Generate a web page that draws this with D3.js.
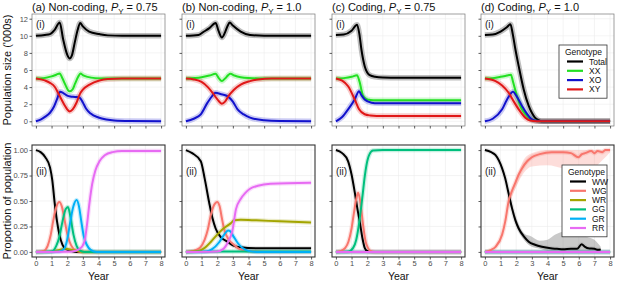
<!DOCTYPE html>
<html>
<head>
<meta charset="utf-8">
<script src="https://d3js.org/d3.v7.min.js"></script>
<style>
  body { margin: 0; background: #fff; }
  text { font-family: "Liberation Sans", Arial, sans-serif; }
</style>
</head>
<body>
<svg id="chart" width="617" height="281"></svg>
<script>
// ---- data: [year, value] ----
const years = [0, 1, 2, 3, 4, 5, 6, 7, 8];
const sizeTicks = [0, 2, 4, 6, 8, 10, 12];
const propTicks = [0, 0.25, 0.5, 0.75, 1];

const sexKeys = ["Total", "XX", "XO", "XY"];
const genoKeys = ["WW", "WG", "WR", "GG", "GR", "RR"];
const zero = [[0, 0], [8, 0]];

// (a) non-coding, Py = 0.75
const aTotal = [[0,10],[0.57,10.1],[0.9,10.2],[1.2,10.7],[1.52,11.55],[1.74,9.6],[2.0,7.8],[2.16,7.35],[2.3,7.7],[2.48,9.2],[2.67,10.7],[2.83,11.5],[3.0,11.1],[3.4,10.5],[4.06,10.2],[4.6,10.05],[5.5,10],[8,10]];
const aXX = [[0,5],[0.5,5.05],[1.0,5.25],[1.3,5.45],[1.52,5.6],[1.7,5.0],[1.9,4.2],[2.05,3.65],[2.16,3.5],[2.35,3.75],[2.5,4.4],[2.7,5.2],[2.85,5.6],[3.0,5.4],[3.3,5.2],[3.8,5.05],[4.5,5],[8,5]];
const aXO = [[0,0],[0.3,0.2],[0.6,0.55],[0.9,1.0],[1.15,1.7],[1.35,2.6],[1.55,3.45],[1.75,3.3],[2.0,3.0],[2.2,2.9],[2.5,2.85],[2.8,2.75],[3.0,2.2],[3.2,1.5],[3.5,0.9],[4.0,0.45],[4.5,0.22],[5,0.1],[6,0.03],[8,0]];
const aXY = [[0,5],[0.57,4.78],[0.9,4.5],[1.2,4.04],[1.52,2.95],[1.84,1.86],[2.0,1.4],[2.16,1.15],[2.35,1.4],[2.6,2.2],[2.8,3.15],[3.0,3.7],[3.43,4.3],[4.06,4.78],[4.6,4.95],[5.5,5],[8,5]];
const aWW = [[0,1],[0.3,0.98],[0.6,0.93],[0.9,0.83],[1.05,0.7],[1.2,0.48],[1.35,0.3],[1.5,0.17],[1.7,0.07],[1.9,0.03],[2.2,0.01],[2.6,0],[8,0]];
const aWG = [[0,0],[0.5,0.01],[0.75,0.06],[0.95,0.17],[1.1,0.3],[1.3,0.44],[1.5,0.49],[1.65,0.45],[1.85,0.3],[2.0,0.18],[2.15,0.1],[2.4,0.03],[2.7,0.005],[3,0],[8,0]];
const aWR = [[0,0],[1.0,0.005],[1.5,0.02],[1.9,0.03],[2.3,0.02],[2.8,0.005],[3.3,0],[8,0]];
const aGG = [[0,0],[1.0,0.005],[1.3,0.06],[1.5,0.15],[1.7,0.3],[1.9,0.42],[2.05,0.44],[2.2,0.35],[2.4,0.17],[2.6,0.06],[2.8,0.015],[3.1,0],[8,0]];
const aGR = [[0,0],[1.5,0.005],[1.8,0.03],[2.0,0.12],[2.2,0.3],[2.4,0.45],[2.6,0.51],[2.75,0.45],[2.9,0.3],[3.05,0.16],[3.25,0.07],[3.5,0.02],[3.9,0],[8,0]];
const aRR = [[0,0],[2.3,0.005],[2.8,0.03],[3.1,0.1],[3.25,0.25],[3.43,0.49],[3.6,0.67],[3.8,0.8],[4.06,0.89],[4.4,0.95],[4.9,0.98],[5.5,0.99],[8,0.99]];

// (b) non-coding, Py = 1.0
const bTotal = [[0,10],[0.8,10.1],[1.16,10.5],[1.5,10.9],[1.9,11.5],[2.08,10.6],[2.3,9.8],[2.5,10.4],[2.65,11.1],[2.8,11.55],[3.0,11.2],[3.5,10.5],[4.1,10.1],[5,10],[8,10]];
const bXX = [[0,5],[1.0,5.15],[1.5,5.35],[1.9,5.55],[2.1,5.05],[2.3,4.7],[2.5,5.0],[2.7,5.4],[2.85,5.55],[3.1,5.35],[3.5,5.15],[4.0,5.05],[5,5],[8,5]];
const bXO = [[0,0],[0.5,0.3],[0.95,0.82],[1.38,2.18],[1.7,3.0],[1.9,3.34],[2.2,3.2],[2.65,2.95],[3.0,2.3],[3.3,1.4],[3.7,0.8],[4.1,0.43],[5,0.12],[6,0.03],[8,0]];
const bXY = [[0,5],[0.5,4.9],[1.0,4.6],[1.4,4.0],[1.7,3.34],[2.0,2.6],[2.3,2.06],[2.5,2.3],[2.7,2.9],[3.07,3.7],[3.5,4.3],[4.1,4.7],[4.6,4.9],[5.5,5],[8,5]];
const bWW = [[0,1],[0.4,0.97],[0.95,0.89],[1.2,0.72],[1.48,0.49],[1.7,0.33],[1.9,0.23],[2.2,0.15],[2.65,0.1],[3.0,0.065],[3.5,0.045],[4.5,0.036],[8,0.035]];
const bWG = [[0,0],[0.5,0.01],[0.9,0.04],[1.2,0.12],[1.4,0.22],[1.59,0.36],[1.8,0.46],[2.0,0.49],[2.15,0.45],[2.3,0.33],[2.43,0.23],[2.7,0.13],[3.07,0.07],[3.4,0.03],[4.0,0.01],[5,0],[8,0]];
const bWR = [[0,0],[0.8,0.01],[1.2,0.04],[1.6,0.1],[2.0,0.17],[2.4,0.23],[2.86,0.28],[3.1,0.31],[3.5,0.315],[4.5,0.31],[6,0.3],[8,0.29]];
const bGG = [[0,0],[2,0.005],[8,0.005]];
const bGR = [[0,0],[1.3,0.005],[1.7,0.03],[2.1,0.09],[2.4,0.16],[2.7,0.21],[2.85,0.2],[3.05,0.15],[3.3,0.09],[3.6,0.04],[4.0,0.01],[4.5,0],[8,0]];
const bRR = [[0,0],[2.0,0.005],[2.4,0.03],[2.7,0.1],[2.96,0.2],[3.2,0.42],[3.5,0.52],[3.8,0.58],[4.1,0.62],[4.6,0.65],[5.4,0.67],[8,0.68]];

// (c) coding, Py = 0.75
const cTotal = [[0,10.1],[0.5,10.15],[1.0,10.6],[1.35,11.3],[1.5,10.2],[1.63,8.4],[1.84,6.45],[2.16,5.4],[2.5,5.2],[3,5.12],[4,5.1],[8,5.1]];
const cXX = [[0,5],[0.5,5.05],[1.0,5.2],[1.35,5.4],[1.5,4.7],[1.74,2.95],[1.95,2.6],[2.2,2.5],[2.6,2.45],[8,2.45]];
const cXO = [[0,0],[0.4,0.5],[0.78,1.4],[1.2,2.56],[1.48,3.5],[1.65,3.0],[1.84,2.56],[2.27,2.18],[2.7,2.1],[8,2.1]];
const cXY = [[0,5],[0.4,4.75],[0.78,4.1],[1.2,2.56],[1.48,1.4],[1.84,0.82],[2.2,0.68],[2.6,0.63],[8,0.62]];
const cWW = [[0,1],[0.4,0.97],[0.78,0.89],[1.0,0.76],[1.2,0.59],[1.4,0.4],[1.52,0.3],[1.7,0.13],[1.84,0.04],[2.0,0.01],[2.3,0],[8,0]];
const cWG = [[0,0],[0.3,0.01],[0.6,0.04],[0.8,0.1],[1.0,0.23],[1.15,0.38],[1.3,0.52],[1.42,0.58],[1.55,0.5],[1.74,0.26],[1.9,0.1],[2.05,0.04],[2.2,0.01],[2.5,0],[8,0]];
const cGG = [[0,0],[0.8,0.005],[1.1,0.04],[1.3,0.12],[1.5,0.3],[1.7,0.55],[1.85,0.75],[1.95,0.85],[2.15,0.96],[2.37,0.995],[3,1],[8,1]];
const cRR = zero;

// (d) coding, Py = 1.0
const dTotal = [[0,10.1],[0.5,10.15],[1.0,10.5],[1.4,11.0],[1.63,11.35],[1.78,10.2],[1.95,8.4],[2.16,6.45],[2.48,3.73],[2.8,1.8],[3.0,1.0],[3.2,0.43],[3.6,0.02],[4,0],[8,0]];
const dXX = [[0,5],[0.5,5.05],[1.0,5.2],[1.4,5.35],[1.66,5.45],[1.8,4.6],[2.05,2.95],[2.37,1.4],[2.6,0.8],[2.8,0.43],[3.1,0.12],[3.5,0.02],[4,0],[8,0]];
const dXO = [[0,0],[0.5,0.3],[1.1,1.4],[1.4,2.5],[1.8,3.46],[2.0,3.0],[2.37,1.8],[2.6,1.1],[3.0,0.23],[3.3,0.06],[3.6,0.01],[4,0],[8,0]];
const dXY = [[0,5],[0.68,4.7],[1.1,4.2],[1.52,3.34],[1.85,2.3],[2.16,1.4],[2.58,0.43],[2.9,0.1],[3.3,0.01],[3.6,0],[8,0]];
const dWW = [[0,1],[0.4,0.98],[0.68,0.95],[1.1,0.82],[1.3,0.72],[1.52,0.57],[1.73,0.43],[1.95,0.31],[2.16,0.23],[2.5,0.15],[2.8,0.1],[3.2,0.07],[3.64,0.05],[4.2,0.035],[4.6,0.03],[5,0.025],[5.5,0.03],[5.9,0.03],[6.18,0.075],[6.4,0.05],[6.6,0.035],[7.0,0.03],[7.24,0.02],[7.4,0.025]];
const dWG = [[0,0],[0.4,0.02],[0.68,0.05],[1.1,0.17],[1.3,0.3],[1.52,0.5],[1.73,0.6],[1.95,0.68],[2.16,0.76],[2.37,0.82],[2.7,0.89],[3.0,0.93],[3.5,0.96],[4.27,0.98],[5.0,0.98],[5.5,0.97],[5.97,0.93],[6.2,0.96],[6.4,0.97],[6.8,0.99],[7.0,0.97],[7.2,0.99],[7.5,0.98],[7.7,1],[8,1]];
const dRR = zero;
// uncertainty bands in (d)(ii): [year, low, high]
const dWWband = [[1.5,0.54,0.6],[2.0,0.26,0.33],[2.5,0.12,0.18],[3.0,0.05,0.15],[3.5,0.03,0.11],[4.0,0.01,0.12],[4.5,0.01,0.17],[5.1,0.01,0.2],[5.5,0.01,0.19],[6.0,0.01,0.2],[6.5,0.01,0.15],[7.0,0.01,0.12],[7.4,0.01,0.05]];
const dWGband = [[1.5,0.46,0.52],[2.0,0.64,0.72],[2.5,0.78,0.91],[3.0,0.84,0.97],[4.0,0.85,1],[5.0,0.82,1],[6.0,0.79,1],[7.0,0.83,1],[7.5,0.9,1],[8,0.98,1]];

const panelNames = ["(a) Non-coding, ", "(b) Non-coding, ", "(c) Coding, ", "(d) Coding, "];
const pyValues = ["0.75", "1.0", "0.75", "1.0"];
const topData = [
  {Total: aTotal, XX: aXX, XO: aXO, XY: aXY},
  {Total: bTotal, XX: bXX, XO: bXO, XY: bXY},
  {Total: cTotal, XX: cXX, XO: cXO, XY: cXY},
  {Total: dTotal, XX: dXX, XO: dXO, XY: dXY}
];
const bottomData = [
  {WW: aWW, WG: aWG, WR: aWR, GG: aGG, GR: aGR, RR: aRR},
  {WW: bWW, WG: bWG, WR: bWR, GG: bGG, GR: bGR, RR: bRR},
  {WW: cWW, WG: cWG, WR: zero, GG: cGG, GR: zero, RR: cRR},
  {WW: dWW, WG: dWG, WR: zero, GG: zero, GR: zero, RR: dRR}
];

// ---- layout ----
const svg = d3.select("#chart");
const panelLeft = [32, 182, 332, 481];
const panelW = 133;
const topBox = {y0: 14, y1: 126};
const botBox = {y0: 145, y1: 257};

const sexColor = d3.scaleOrdinal().domain(sexKeys).range(["#000000", "#22e022", "#1212cc", "#e01818"]);
const genoColor = d3.scaleOrdinal().domain(genoKeys).range(["#000000", "#F8766D", "#A3A500", "#00BF7D", "#00B0F6", "#E76BF3"]);

const ySize = d3.scaleLinear().domain([-0.55, 12.55]).range([topBox.y1, topBox.y0]);
const yProp = d3.scaleLinear().domain([-0.05, 1.05]).range([botBox.y1, botBox.y0]);

function drawPanel(i, box, yScale, yTicks, data, keys, color, isBottom) {
  const left = panelLeft[i];
  const x = d3.scaleLinear().domain([-0.25, 8.25]).range([left, left + panelW]);
  const g = svg.append("g");

  // grid
  g.selectAll("line.gx").data(years).join("line")
    .attr("x1", d => x(d)).attr("x2", d => x(d))
    .attr("y1", box.y0).attr("y2", box.y1)
    .attr("stroke", "#ececec").attr("stroke-width", 0.6);
  g.selectAll("line.gy").data(yTicks).join("line")
    .attr("x1", left).attr("x2", left + panelW)
    .attr("y1", d => yScale(d)).attr("y2", d => yScale(d))
    .attr("stroke", "#ececec").attr("stroke-width", 0.6);

  const clipId = "clip" + i + (isBottom ? "b" : "t");
  svg.append("clipPath").attr("id", clipId).append("rect")
    .attr("x", left).attr("y", box.y0).attr("width", panelW).attr("height", box.y1 - box.y0);
  const plot = g.append("g").attr("clip-path", "url(#" + clipId + ")");

  const line = d3.line().x(d => x(d[0])).y(d => yScale(d[1])).curve(d3.curveMonotoneX);

  // explicit bands for panel (d)(ii)
  if (isBottom && i === 3) {
    const area = d3.area().x(d => x(d[0])).y0(d => yProp(d[1])).y1(d => yProp(d[2])).curve(d3.curveMonotoneX);
    plot.append("path").datum(dWGband).attr("d", area).attr("fill", "#F8766D").attr("fill-opacity", 0.25);
    plot.append("path").datum(dWWband).attr("d", area).attr("fill", "#777").attr("fill-opacity", 0.4);
  }

  // soft halos standing in for the replicate spread
  keys.forEach(k => {
    plot.append("path").datum(data[k]).attr("d", line)
      .attr("fill", "none")
      .attr("stroke", k === "Total" || k === "WW" ? "#888" : color(k))
      .attr("stroke-opacity", k === "Total" ? 0.55 : 0.22)
      .attr("stroke-width", isBottom ? 4.5 : 5.5)
      .attr("stroke-linejoin", "round");
  });
  keys.forEach(k => {
    plot.append("path").datum(data[k]).attr("d", line)
      .attr("fill", "none")
      .attr("stroke", color(k))
      .attr("stroke-width", 2)
      .attr("stroke-linejoin", "round");
  });

  // frame
  g.append("rect").attr("x", left).attr("y", box.y0)
    .attr("width", panelW).attr("height", box.y1 - box.y0)
    .attr("fill", "none")
    .attr("stroke", isBottom ? "#333" : "#777")
    .attr("stroke-width", isBottom ? 1.1 : 0.7);

  // axes
  const yAxis = d3.axisLeft(yScale).tickValues(yTicks).tickSize(2.5).tickPadding(1.5)
    .tickFormat(i === 0 ? (isBottom ? d3.format(".2f") : d3.format("d")) : "");
  const ya = g.append("g").attr("transform", "translate(" + left + ",0)").call(yAxis);
  const xAxis = d3.axisBottom(x).tickValues(years).tickSize(2.5).tickPadding(1.5)
    .tickFormat(isBottom ? d3.format("d") : "");
  const xa = g.append("g").attr("transform", "translate(0," + box.y1 + ")").call(xAxis);
  [ya, xa].forEach(a => {
    a.select(".domain").remove();
    a.selectAll(".tick line").attr("stroke", "#333").attr("stroke-width", 0.8);
    a.selectAll(".tick text").attr("fill", "#4d4d4d").style("font-size", "7.5px")
      .style("font-family", "'Liberation Sans', Arial, sans-serif");
  });

  // sub-label
  g.append("text").attr("x", left + 4).attr("y", isBottom ? box.y0 + 30 : box.y0 + 14)
    .style("font-size", "10px").attr("fill", "#222").text(isBottom ? "(ii)" : "(i)");

  if (isBottom) {
    g.append("text").attr("x", left + panelW / 2).attr("y", 280)
      .attr("text-anchor", "middle").style("font-size", "10.5px").attr("fill", "#111").text("Year");
  } else {
    const t = g.append("text").attr("x", left).attr("y", 11).style("font-size", "11px").attr("fill", "#111");
    t.append("tspan").text(panelNames[i]);
    t.append("tspan").style("font-style", "italic").text("P");
    t.append("tspan").attr("dy", 2.5).style("font-size", "8px").text("Y");
    t.append("tspan").attr("dy", -2.5).text(" = " + pyValues[i]);
  }
}

for (let i = 0; i < 4; i++) {
  drawPanel(i, topBox, ySize, sizeTicks, topData[i], sexKeys, sexColor, false);
  drawPanel(i, botBox, yProp, propTicks, bottomData[i], genoKeys, genoColor, true);
}

// y titles
svg.append("text").attr("transform", "translate(11,70) rotate(-90)")
  .attr("text-anchor", "middle").style("font-size", "11px").attr("fill", "#111")
  .text("Population size ('000s)");
svg.append("text").attr("transform", "translate(11,201) rotate(-90)")
  .attr("text-anchor", "middle").style("font-size", "11px").attr("fill", "#111")
  .text("Proportion of population");

// legends
function legend(x0, y0, w, keys, color) {
  const step = 9.3;
  const h = 16 + keys.length * step;
  const g = svg.append("g");
  g.append("rect").attr("x", x0).attr("y", y0).attr("width", w).attr("height", h)
    .attr("fill", "#fff").attr("stroke", "#333").attr("stroke-width", 0.8);
  g.append("text").attr("x", x0 + 6).attr("y", y0 + 10).style("font-size", "8.5px").attr("fill", "#111").text("Genotype");
  keys.forEach((k, j) => {
    const yy = y0 + 16.5 + j * step;
    g.append("line").attr("x1", x0 + 8).attr("x2", x0 + 24).attr("y1", yy).attr("y2", yy)
      .attr("stroke", color(k)).attr("stroke-width", 2.2);
    g.append("text").attr("x", x0 + 30).attr("y", yy + 3).style("font-size", "8.5px").attr("fill", "#111").text(k);
  });
}
legend(559, 45, 48, sexKeys, sexColor);
legend(562, 165, 45, genoKeys, genoColor);
</script>
</body>
</html>
